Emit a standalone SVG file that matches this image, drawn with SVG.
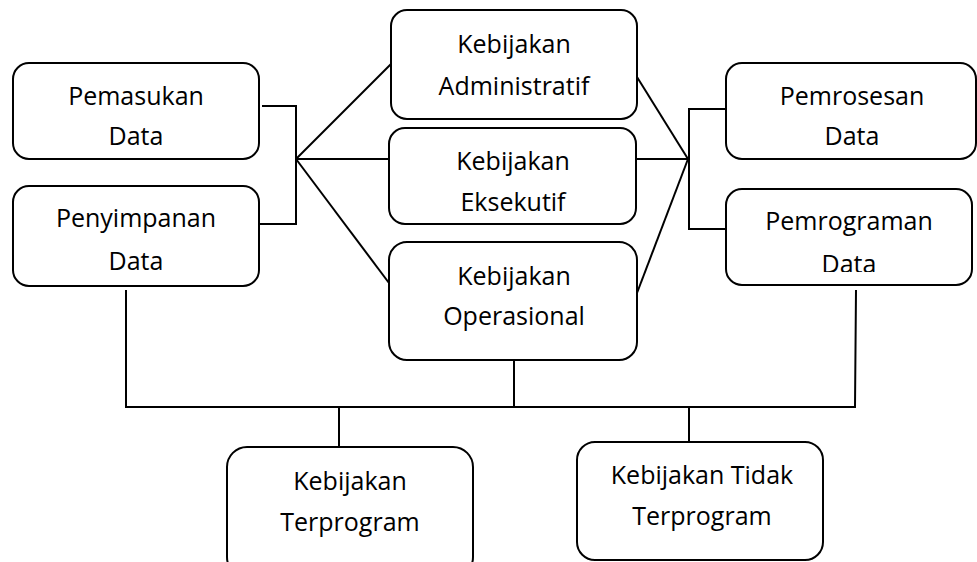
<svg xmlns="http://www.w3.org/2000/svg" width="977" height="562" viewBox="0 0 977 562">
  <style>
    .box { fill: #ffffff; stroke: #000000; stroke-width: 2; }
    .lbl { font-family: "Open Sans", "Noto Sans", sans-serif; font-size: 25px; fill: #000000; text-anchor: middle; }
    .wire { fill: none; stroke: #000000; stroke-width: 2; }
  </style>
  <defs>
    <clipPath id="clipPemrograman">
      <rect x="726" y="189" width="246" height="83"/>
    </clipPath>
  </defs>
  <rect width="977" height="562" fill="#ffffff"/>

  <!-- connectors -->
  <g id="connectors" class="wire">
    <!-- left bracket and fan -->
    <polyline points="262,106 296,106 296,224 259,224"/>
    <line x1="296" y1="159" x2="391" y2="64"/>
    <line x1="296" y1="159" x2="389" y2="159"/>
    <line x1="296" y1="159" x2="389" y2="283"/>
    <!-- right fan and bracket -->
    <line x1="637" y1="77" x2="688" y2="159"/>
    <line x1="636" y1="159" x2="688" y2="159"/>
    <line x1="637" y1="293" x2="688" y2="159"/>
    <polyline points="726,109 689,109 689,229 726,229"/>
    <!-- bottom bus -->
    <polyline points="126,290 126,407 855,407 856,290"/>
    <line x1="514" y1="360" x2="514" y2="407"/>
    <line x1="339" y1="407" x2="339" y2="447"/>
    <line x1="689" y1="407" x2="689" y2="442"/>
  </g>

  <g id="pemasukan">
    <rect class="box" x="13" y="63" width="246" height="96" rx="16"/>
    <text class="lbl" x="136" y="105">Pemasukan</text>
    <text class="lbl" x="136" y="145">Data</text>
  </g>

  <g id="penyimpanan">
    <rect class="box" x="13" y="186" width="246" height="100" rx="16"/>
    <text class="lbl" x="136" y="227">Penyimpanan</text>
    <text class="lbl" x="136" y="270">Data</text>
  </g>

  <g id="administratif">
    <rect class="box" x="391" y="10" width="246" height="109" rx="16"/>
    <text class="lbl" x="514" y="53">Kebijakan</text>
    <text class="lbl" x="514" y="95">Administratif</text>
  </g>

  <g id="eksekutif">
    <rect class="box" x="389" y="128" width="247" height="96" rx="16"/>
    <text class="lbl" x="513" y="170">Kebijakan</text>
    <text class="lbl" x="513" y="211">Eksekutif</text>
  </g>

  <g id="operasional">
    <rect class="box" x="389" y="242" width="248" height="118" rx="18"/>
    <text class="lbl" x="514" y="285">Kebijakan</text>
    <text class="lbl" x="514" y="325">Operasional</text>
  </g>

  <g id="pemrosesan">
    <rect class="box" x="726" y="63" width="250" height="96" rx="16"/>
    <text class="lbl" x="852" y="105">Pemrosesan</text>
    <text class="lbl" x="852" y="145">Data</text>
  </g>

  <g id="pemrograman">
    <rect class="box" x="726" y="189" width="246" height="96" rx="16"/>
    <text class="lbl" x="849" y="230">Pemrograman</text>
    <text class="lbl" x="849" y="273" clip-path="url(#clipPemrograman)">Data</text>
  </g>

  <g id="terprogram">
    <rect class="box" x="227" y="447" width="246" height="130" rx="20"/>
    <text class="lbl" x="350" y="490">Kebijakan</text>
    <text class="lbl" x="350" y="531">Terprogram</text>
  </g>

  <g id="tidak-terprogram">
    <rect class="box" x="577" y="442" width="246" height="118" rx="18"/>
    <text class="lbl" x="702" y="484">Kebijakan Tidak</text>
    <text class="lbl" x="702" y="525">Terprogram</text>
  </g>
</svg>
